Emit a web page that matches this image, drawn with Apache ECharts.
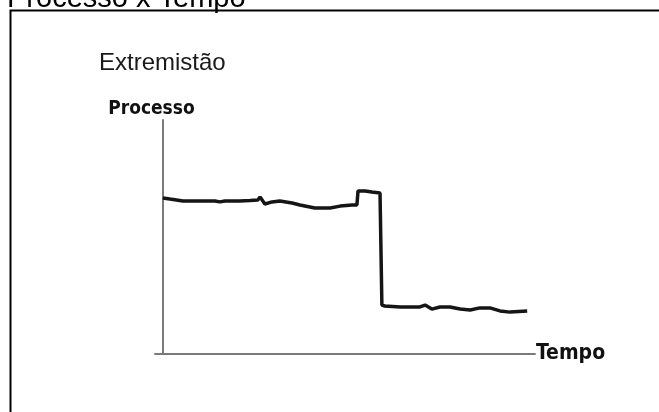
<!DOCTYPE html>
<html>
<head>
<meta charset="utf-8">
<script src="https://cdn.jsdelivr.net/npm/echarts@6/dist/echarts.min.js"></script>
<style>
html,body{margin:0;padding:0;background:#fff;}
#chart{width:659px;height:412px;}
</style>
</head>
<body>
<div id="chart"></div>
<script>
// tempo (x) / processo (y)
var tempo = [0.1, 2.0, 5.5, 10.1, 14.1, 15.4, 16.8, 20.8, 23.5, 25.6, 26.2, 27.5, 29.4, 31.5, 34.8, 36.9, 40.9, 45.0, 47.7, 50.9, 52.2,
	52.5, 54.4, 56.2, 58.4,
	58.9, 59.7, 63.8, 69.1, 70.5, 72.3, 74.5, 77.2, 79.9, 82.6, 85.2, 87.9, 90.6, 93.3, 97.9];
var processo = [66.7, 66.2, 65.4, 65.4, 65.4, 65.0, 65.4, 65.4, 65.6, 65.8, 67.1, 64.1, 65.0, 65.4, 64.5, 63.7, 62.4, 62.4, 63.2, 63.7, 63.7,
	69.7, 69.7, 69.2, 68.8,
	20.9, 20.5, 20.1, 20.1, 20.9, 19.2, 20.1, 20.1, 19.2, 18.8, 19.7, 19.7, 18.4, 17.9, 18.4];

var pontos = [];
for (var i = 0; i < tempo.length; i++) {
	pontos.push([tempo[i], processo[i]]);
}

var fonteEixo = '"DejaVu Sans Condensed", "Liberation Sans Narrow", "DejaVu Sans", sans-serif';

var myChart = echarts.init(document.getElementById('chart'));
var option = {
	animation: false,
	backgroundColor: '#fff',
	title: [{
		text: 'Processo x Tempo',
		left: 2,
		top: -21,
		textStyle: {fontFamily: 'Liberation Sans, Arial, sans-serif', fontSize: 29, fontWeight: 'normal', color: '#000'}
	}, {
		text: 'Extremistão',
		left: 94,
		top: 46,
		textStyle: {fontFamily: 'Liberation Sans, Arial, sans-serif', fontSize: 24, fontWeight: 'normal', color: '#1a1a1a'}
	}],
	graphic: [{
		type: 'rect',
		shape: {x: 10.5, y: 10.5, width: 700, height: 500},
		style: {fill: 'none', stroke: '#000', lineWidth: 2}
	}],
	grid: {left: 155, right: 124, top: 120, bottom: 58},
	xAxis: {
		type: 'value',
		min: -2,
		max: 100,
		name: 'Tempo',
		nameLocation: 'end',
		nameGap: 1,
		nameTextStyle: {fontFamily: fonteEixo, fontSize: 21, fontWeight: 'bold', color: '#111', verticalAlign: 'middle', padding: [0, 0, 8, 0]},
		axisLine: {show: true, onZero: false, lineStyle: {color: '#7a7a7a', width: 2}},
		axisTick: {show: false},
		axisLabel: {show: false},
		splitLine: {show: false}
	},
	yAxis: {
		type: 'value',
		min: 0,
		max: 100,
		name: 'Processo',
		nameLocation: 'end',
		nameGap: 1,
		nameTextStyle: {fontFamily: fonteEixo, fontSize: 19, fontWeight: 'bold', color: '#111', align: 'center', padding: [0, 22, 0, 0]},
		axisLine: {show: true, onZero: true, lineStyle: {color: '#7a7a7a', width: 2}},
		axisTick: {show: false},
		axisLabel: {show: false},
		splitLine: {show: false}
	},
	series: [{
		type: 'line',
		data: pontos,
		showSymbol: false,
		smooth: false,
		lineStyle: {color: '#151515', width: 3.5}
	}]
};
myChart.setOption(option);
</script>
</body>
</html>
